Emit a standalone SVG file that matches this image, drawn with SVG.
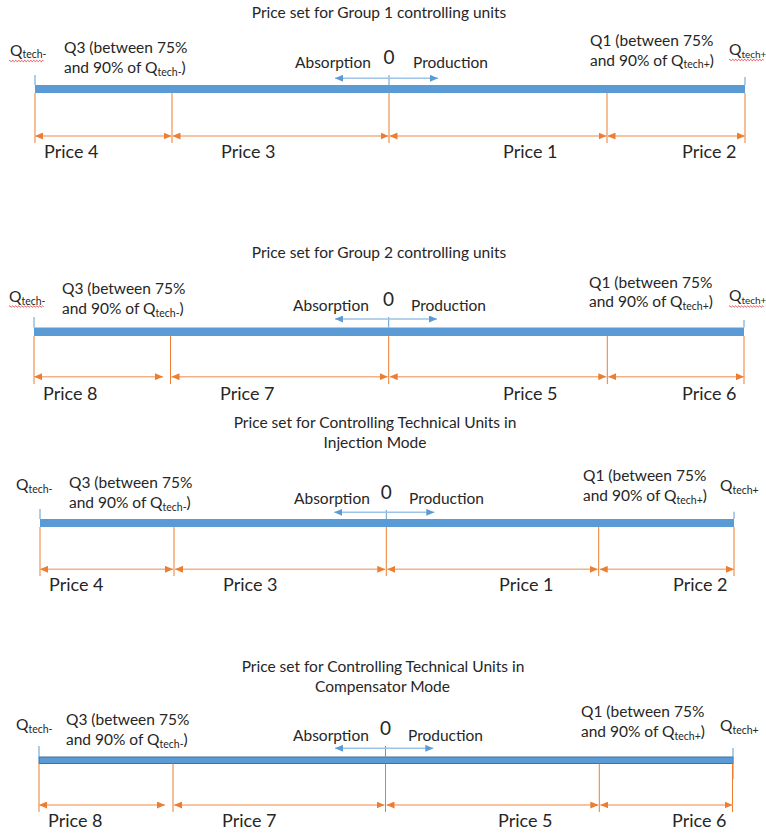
<svg xmlns="http://www.w3.org/2000/svg" width="766" height="834" viewBox="0 0 766 834">
<style>
.t{font-family:Lato,'Liberation Sans',sans-serif;fill:#262626}
.ttl{font-size:15.5px;text-anchor:middle}
.lbl{font-size:15.5px}
.pr{font-size:18px}
.zero{font-size:19px;text-anchor:middle}
.sub{font-size:10.5px}
.subr{font-size:10px}
.bar{fill:#5b9bd5}
.bar4{fill:#5b9bd5;stroke:#41719c;stroke-width:1}
.tick{stroke:#5b9bd5;stroke-width:1;fill:none}
.vo{stroke:#ed7d31;stroke-width:1;fill:none}
.ha{stroke:#f4b183;stroke-width:1.5;fill:none;marker-start:url(#ao);marker-end:url(#ao)}
.ba{stroke:#9dc3e6;stroke-width:1.5;fill:none;marker-start:url(#ab);marker-end:url(#ab)}
.sq{fill:none;stroke:#e02020;stroke-width:0.8}
</style>
<defs>
<marker id="ao" viewBox="0 0 8 7" refX="8" refY="3.5" markerWidth="8" markerHeight="7" markerUnits="userSpaceOnUse" orient="auto-start-reverse"><path d="M0,0 L8,3.5 L0,7 z" fill="#ed7d31"/></marker>
<marker id="ab" viewBox="0 0 8 7" refX="8" refY="3.5" markerWidth="8" markerHeight="7" markerUnits="userSpaceOnUse" orient="auto-start-reverse"><path d="M0,0 L8,3.5 L0,7 z" fill="#5b9bd5"/></marker>
<path id="sqp" class="sq" d="M0,0 q0.75,-1.4 1.5,0 t1.5,0 t1.5,0 t1.5,0 t1.5,0 t1.5,0 t1.5,0 t1.5,0 t1.5,0 t1.5,0 t1.5,0 t1.5,0 t1.5,0 t1.5,0 t1.5,0 t1.5,0 t1.5,0 t1.5,0 t1.5,0 t1.5,0 t1.5,0 t1.5,0 t1.5,0"/>
</defs>
<rect width="766" height="834" fill="#ffffff"/>

<!-- Panel 1 -->
<g id="panel1">
  <text id="p1-title" class="t ttl" x="379" y="18">Price set for Group 1 controlling units</text>
  <g id="p1-qtechminus"><text class="t lbl" x="10" y="55.5">Q<tspan class="sub" dy="2.5">tech-</tspan></text><use href="#sqp" x="9" y="61"/></g>
  <g id="p1-qtechplus"><text class="t lbl" x="729" y="55">Q<tspan class="subr" dy="2.5">tech+</tspan></text><use href="#sqp" x="729" y="60"/></g>
  <g id="p1-q3"><text class="t lbl" x="64" y="53">Q3 (between 75%</text><text class="t lbl" x="64" y="73">and 90% of Q<tspan class="sub" dy="2.5">tech-</tspan><tspan dy="-2.5">)</tspan></text></g>
  <g id="p1-q1"><text class="t lbl" x="590" y="45.5">Q1 (between 75%</text><text class="t lbl" x="590" y="65.5">and 90% of Q<tspan class="sub" dy="2.5">tech+</tspan><tspan dy="-2.5">)</tspan></text></g>
  <text id="p1-abs" class="t lbl" x="295" y="68">Absorption</text>
  <text id="p1-zero" class="t zero" x="389" y="64">0</text>
  <text id="p1-prod" class="t lbl" x="413" y="68">Production</text>
  <rect id="p1-bar" class="bar" x="35" y="85" width="710" height="8"/>
  <g id="p1-prices">
    <text class="t pr" x="44" y="158">Price 4</text>
    <text class="t pr" x="221" y="158">Price 3</text>
    <text class="t pr" x="503" y="158">Price 1</text>
    <text class="t pr" x="682" y="158">Price 2</text>
  </g>
  <g id="p1-connectors">
    <path class="tick" d="M35,75V85M389,75V85M745,77V85"/>
    <path class="vo" d="M35,93V143M172,93V143M389,93V143M607,93V143M745,93V143"/>
    <path class="ha" d="M35,136H171.5"/>
    <path class="ha" d="M172.5,136H388.5"/>
    <path class="ha" d="M389.5,136H606.5"/>
    <path class="ha" d="M607.5,136H745"/>
    <path class="ba" d="M335,78.3H438"/>
  </g>
</g>

<!-- Panel 2 -->
<g id="panel2">
  <text id="p2-title" class="t ttl" x="379" y="258.3">Price set for Group 2 controlling units</text>
  <g id="p2-qtechminus"><text class="t lbl" x="9" y="302">Q<tspan class="sub" dy="2.5">tech-</tspan></text><use href="#sqp" x="9" y="306.5"/></g>
  <g id="p2-qtechplus"><text class="t lbl" x="729" y="301">Q<tspan class="subr" dy="2.5">tech+</tspan></text><use href="#sqp" x="729" y="306.5"/></g>
  <g id="p2-q3"><text class="t lbl" x="62" y="294">Q3 (between 75%</text><text class="t lbl" x="62" y="314">and 90% of Q<tspan class="sub" dy="2.5">tech-</tspan><tspan dy="-2.5">)</tspan></text></g>
  <g id="p2-q1"><text class="t lbl" x="589" y="287.5">Q1 (between 75%</text><text class="t lbl" x="589" y="307">and 90% of Q<tspan class="sub" dy="2.5">tech+</tspan><tspan dy="-2.5">)</tspan></text></g>
  <text id="p2-abs" class="t lbl" x="293" y="310.5">Absorption</text>
  <text id="p2-zero" class="t zero" x="388.5" y="305.5">0</text>
  <text id="p2-prod" class="t lbl" x="411" y="310.5">Production</text>
  <rect id="p2-bar" class="bar" x="34" y="327.5" width="710" height="8.5"/>
  <g id="p2-prices">
    <text class="t pr" x="43" y="400">Price 8</text>
    <text class="t pr" x="220" y="400">Price 7</text>
    <text class="t pr" x="503" y="400">Price 5</text>
    <text class="t pr" x="682" y="400">Price 6</text>
  </g>
  <g id="p2-connectors">
    <path class="tick" d="M34,317V327.5M388.7,317V327.5M744,320V327.5"/>
    <path class="vo" d="M34,336V384M170.5,336V384M388.7,336V384M607.3,336V384M744,336V384"/>
    <path class="ha" d="M34,376.7H163"/>
    <path class="ha" d="M171.5,376.7H387.7"/>
    <path class="ha" d="M389.7,376.7H606.3"/>
    <path class="ha" d="M608.3,376.7H744"/>
    <path class="ba" d="M335,319H437"/>
  </g>
</g>

<!-- Panel 3 -->
<g id="panel3">
  <g id="p3-title"><text class="t ttl" x="375" y="428">Price set for Controlling Technical Units in</text><text class="t ttl" x="375" y="448">Injection Mode</text></g>
  <text id="p3-qtechminus" class="t lbl" x="16" y="490">Q<tspan class="sub" dy="2.5">tech-</tspan></text>
  <text id="p3-qtechplus" class="t lbl" x="720" y="491">Q<tspan class="sub" dy="2.5">tech+</tspan></text>
  <g id="p3-q3"><text class="t lbl" x="69" y="488">Q3 (between 75%</text><text class="t lbl" x="69" y="508">and 90% of Q<tspan class="sub" dy="2.5">tech-</tspan><tspan dy="-2.5">)</tspan></text></g>
  <g id="p3-q1"><text class="t lbl" x="583" y="481">Q1 (between 75%</text><text class="t lbl" x="583" y="501">and 90% of Q<tspan class="sub" dy="2.5">tech+</tspan><tspan dy="-2.5">)</tspan></text></g>
  <text id="p3-abs" class="t lbl" x="294" y="503.5">Absorption</text>
  <text id="p3-zero" class="t zero" x="386.3" y="499">0</text>
  <text id="p3-prod" class="t lbl" x="409" y="503.5">Production</text>
  <rect id="p3-bar" class="bar" x="40" y="519" width="694" height="8"/>
  <g id="p3-prices">
    <text class="t pr" x="49" y="591">Price 4</text>
    <text class="t pr" x="223" y="591">Price 3</text>
    <text class="t pr" x="499" y="591">Price 1</text>
    <text class="t pr" x="673" y="591">Price 2</text>
  </g>
  <g id="p3-connectors">
    <path class="tick" d="M40,509V519M386.3,510V519M734,511.7V519"/>
    <path class="vo" d="M40,527V576M174,527V576M386.3,527V576M598.7,527V576M734,527V576"/>
    <path class="ha" d="M40,569.3H173"/>
    <path class="ha" d="M175,569.3H385.3"/>
    <path class="ha" d="M387.3,569.3H597.7"/>
    <path class="ha" d="M599.7,569.3H734"/>
    <path class="ba" d="M334.3,512.3H434.3"/>
  </g>
</g>

<!-- Panel 4 -->
<g id="panel4">
  <g id="p4-title"><text class="t ttl" x="383" y="672">Price set for Controlling Technical Units in</text><text class="t ttl" x="382.5" y="692">Compensator Mode</text></g>
  <text id="p4-qtechminus" class="t lbl" x="16" y="730">Q<tspan class="sub" dy="2.5">tech-</tspan></text>
  <text id="p4-qtechplus" class="t lbl" x="720" y="731">Q<tspan class="sub" dy="2.5">tech+</tspan></text>
  <g id="p4-q3"><text class="t lbl" x="66" y="725">Q3 (between 75%</text><text class="t lbl" x="66" y="745">and 90% of Q<tspan class="sub" dy="2.5">tech-</tspan><tspan dy="-2.5">)</tspan></text></g>
  <g id="p4-q1"><text class="t lbl" x="581" y="716.7">Q1 (between 75%</text><text class="t lbl" x="581" y="737">and 90% of Q<tspan class="sub" dy="2.5">tech+</tspan><tspan dy="-2.5">)</tspan></text></g>
  <text id="p4-abs" class="t lbl" x="293" y="741">Absorption</text>
  <text id="p4-zero" class="t zero" x="385.5" y="735">0</text>
  <text id="p4-prod" class="t lbl" x="408" y="741">Production</text>
  <rect id="p4-bar" class="bar4" x="39" y="757" width="694" height="6.5"/>
  <g id="p4-prices">
    <text class="t pr" x="48" y="827">Price 8</text>
    <text class="t pr" x="222" y="827">Price 7</text>
    <text class="t pr" x="498" y="827">Price 5</text>
    <text class="t pr" x="672" y="827">Price 6</text>
  </g>
  <g id="p4-connectors">
    <path class="tick" d="M39,746V757M385.5,746V757M733,748V779"/>
    <path class="vo" d="M39,763.5V812M173,763.5V812M385.5,763.5V812M599.3,763.5V812M732.5,763.5V812"/>
    <path class="ha" d="M39,805H165"/>
    <path class="ha" d="M174,805H384.5"/>
    <path class="ha" d="M386.5,805H598.3"/>
    <path class="ha" d="M600.3,805H732.5"/>
    <path class="ba" d="M335,748.3H433.3"/>
  </g>
</g>
</svg>
